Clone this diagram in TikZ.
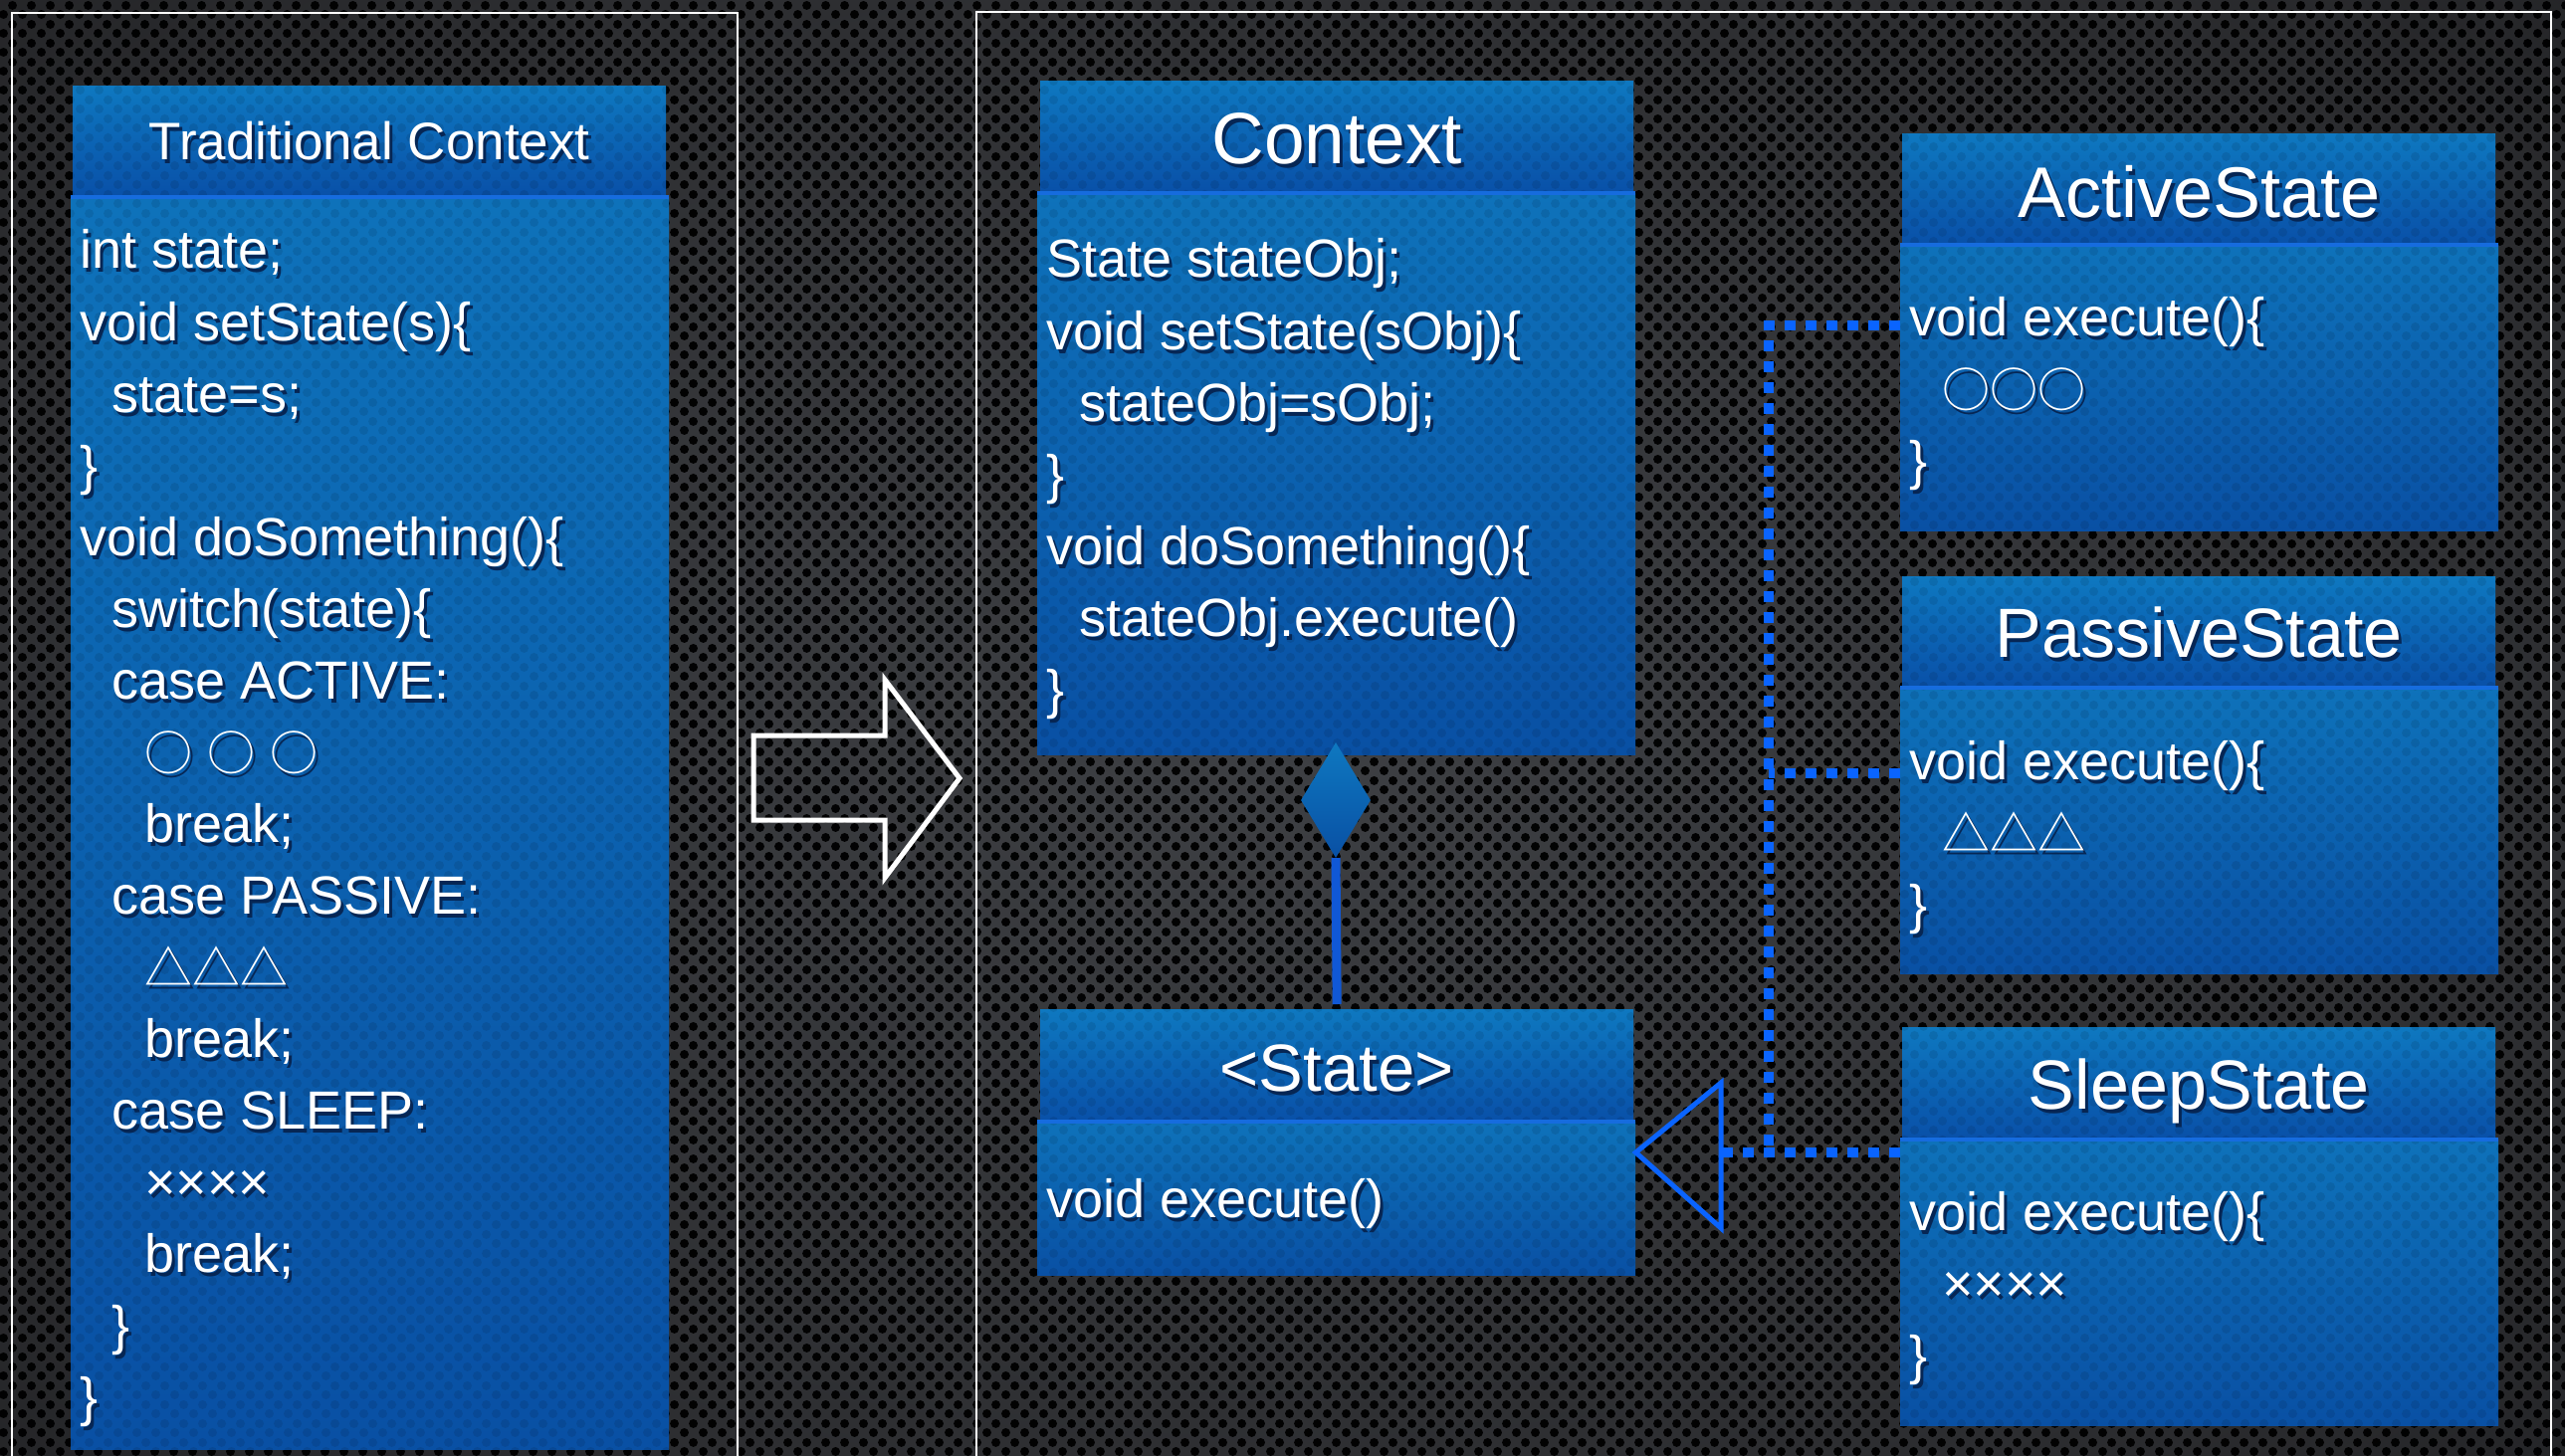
\documentclass[tikz,border=0pt]{standalone}
\usepackage{fontspec}
\setmainfont{Liberation Sans}
\newfontfamily\cjkfont{Noto Sans CJK JP}
\usetikzlibrary{patterns.meta,shapes.geometric}

% colours
\definecolor{bgA}{RGB}{62,64,68}
\definecolor{bgB}{RGB}{44,45,48}
\definecolor{bgC}{RGB}{22,22,24}
\definecolor{bgD}{RGB}{3,3,3}
\definecolor{hdrtop}{RGB}{14,120,192}
\definecolor{hdrbot}{RGB}{9,80,168}
\definecolor{bodytop}{RGB}{14,114,186}
\definecolor{bodybot}{RGB}{9,80,164}
\definecolor{edgeblue}{RGB}{22,108,222}
\definecolor{linkblue}{RGB}{10,100,255}
\definecolor{compblue}{RGB}{16,88,214}
\definecolor{txtshadow}{RGB}{6,38,84}

% white text with a dark drop shadow
\newcommand\shadowed[1]{\leavevmode\rlap{\hspace{3pt}\raisebox{-4pt}{\textcolor{txtshadow}{#1}}}#1}
\newcommand\cjk[1]{{\cjkfont\fontsize{48}{72}\selectfont #1}}
\newcommand\titlesize[1]{\fontsize{#1}{80}\selectfont}

% darkening towards the edges of the slide
\pgfdeclareradialshading{vignette}{\pgfpoint{0bp}{0bp}}{color(0bp)=(bgA); color(28bp)=(bgB); color(50bp)=(bgC); color(71bp)=(bgD)}

% perforated metal
\tikzdeclarepattern{
  name=perforation,
  type=uncolored,
  bounding box={(0pt,0pt) and (19pt,19pt)},
  tile size={(19pt,19pt)},
  code={
    \pgfpathcircle{\pgfqpoint{4.75pt}{4.75pt}}{4.7pt}
    \pgfpathcircle{\pgfqpoint{14.25pt}{14.25pt}}{4.7pt}
    \pgfusepath{fill}
  }
}

\begin{document}
\begin{tikzpicture}[
  x=1pt, y=-1pt,
  font=\fontsize{54}{72}\selectfont,
  frame/.style={draw=white, line width=2.5pt},
  hdr/.style={rectangle, draw=none, inner sep=0, anchor=north west,
    minimum width=596pt, minimum height=112pt,
    top color=hdrtop, bottom color=hdrbot,
    postaction={fill opacity=0.09, pattern=perforation, pattern color=black}},
  bodybox/.style={rectangle, draw=none, inner sep=0, anchor=north west,
    minimum width=601pt,
    top color=bodytop, bottom color=bodybot,
    postaction={fill opacity=0.09, pattern=perforation, pattern color=black}},
  edge/.style={draw=edgeblue, line width=4pt},
  title/.style={anchor=base, inner sep=0, text=white},
  code/.style={anchor=base west, inner sep=0, text=white},
  realize/.style={draw=linkblue, line width=10pt, dash pattern=on 11pt off 10pt},
  generalize/.style={draw=linkblue, line width=5pt, line join=miter},
  composite/.style={draw=compblue, line width=9pt},
  bigarrow/.style={draw=white, line width=5pt, line join=miter}
]
\useasboundingbox (0,0) rectangle (2577,1463);

% background
\shade[shading=vignette] (0,0) rectangle (2577,1463);
\fill[pattern=perforation, pattern color=black, fill opacity=0.95] (0,0) rectangle (2577,1463);

% the two panels
\draw[frame] (12,1470) -- (12,13) -- (741,13) -- (741,1470);
\draw[frame] (981,1470) -- (981,12) -- (2563,12) -- (2563,1470);

% ---------- traditional context ----------
\node[hdr] (tcH) at (73,86) {};
\node[bodybox, minimum height=1258pt] (tcB) at (71,198) {};
\draw[edge] (tcB.north west) -- (tcB.north east);
\node[title, font=\titlesize{53}] (tcT) at (tcH.center |- 0,161) {\shadowed{Traditional Context}};
\foreach \ind/\txt [count=\i] in {
  0/{int state;},
  0/{void setState(s)\{},
  1/{state=s;},
  0/{\}},
  0/{void doSomething()\{},
  1/{switch(state)\{},
  1/{case ACTIVE:},
  2/{\cjk{○} \cjk{○} \cjk{○}},
  2/{break;},
  1/{case PASSIVE:},
  2/{\cjk{△△△}},
  2/{break;},
  1/{case SLEEP:},
  2/{××××},
  2/{break;},
  1/{\}},
  0/{\}}}
  \node[code] (tc-\i) at (80+\ind*32.5, 270+72*\i-72) {\shadowed{\txt}};

% ---------- context ----------
\node[hdr, minimum height=113pt] (ctxH) at (1045,81) {};
\node[bodybox, minimum height=564pt] (ctxB) at (1042,194) {};
\draw[edge] (ctxB.north west) -- (ctxB.north east);
\node[title, font=\titlesize{73}] (ctxT) at (ctxH.center |- 0,165) {\shadowed{Context}};
\foreach \ind/\txt [count=\i] in {
  0/{State stateObj;},
  0/{void setState(sObj)\{},
  1/{stateObj=sObj;},
  0/{\}},
  0/{void doSomething()\{},
  1/{stateObj.execute()},
  0/{\}}}
  \node[code] (ctx-\i) at (1051+\ind*33, 279+72*\i-72) {\shadowed{\txt}};

% ---------- state interface ----------
\node[hdr, minimum height=113pt] (stH) at (1045,1014) {};
\node[bodybox, minimum height=154pt] (stB) at (1042,1127) {};
\draw[edge] (stB.north west) -- (stB.north east);
\node[title, font=\titlesize{67}] (stT) at (stH.center |- 0,1096) {\shadowed{<State>}};
\node[code] (st-1) at (1051,1223) {\shadowed{void execute()}};

% ---------- concrete states ----------
\node[hdr] (actH) at (1911,134) {};
\node[bodybox, minimum height=287pt] (actB) at (1909,246) {};
\draw[edge] (actB.north west) -- (actB.north east);
\node[title, font=\titlesize{72}] (actT) at (actH.center |- 0,219) {\shadowed{ActiveState}};
\foreach \ind/\txt [count=\i] in {
  0/{void execute()\{},
  1/{\cjk{○○○}},
  0/{\}}}
  \node[code] (act-\i) at (1918+\ind*33, 337+72*\i-72) {\shadowed{\txt}};

\node[hdr] (pasH) at (1911,579) {};
\node[bodybox, minimum height=287pt] (pasB) at (1909,691) {};
\draw[edge] (pasB.north west) -- (pasB.north east);
\node[title, font=\titlesize{70}] (pasT) at (pasH.center |- 0,660) {\shadowed{PassiveState}};
\foreach \ind/\txt [count=\i] in {
  0/{void execute()\{},
  1/{\cjk{△△△}},
  0/{\}}}
  \node[code] (pas-\i) at (1918+\ind*33, 783+72*\i-72) {\shadowed{\txt}};

\node[hdr, minimum height=113pt] (slpH) at (1911,1032) {};
\node[bodybox, minimum height=287pt] (slpB) at (1909,1145) {};
\draw[edge] (slpB.north west) -- (slpB.north east);
\node[title, font=\titlesize{70}] (slpT) at (slpH.center |- 0,1114) {\shadowed{SleepState}};
\foreach \ind/\txt [count=\i] in {
  0/{void execute()\{},
  1/{××××},
  0/{\}}}
  \node[code] (slp-\i) at (1918+\ind*33, 1236+72*\i-72) {\shadowed{\txt}};

% ---------- composition: context holds a state ----------
\node[diamond, draw=none, inner sep=0, minimum width=70pt, minimum height=116pt,
      top color=hdrtop, bottom color=bodybot] (agg) at (1342,804) {};
\draw[composite, shorten >=5pt] (agg.south) -- (stH.north);

% ---------- realization: concrete states implement <State> ----------
\coordinate (busA) at (1777,327);
\coordinate (busP) at (1777,777);
\coordinate (busS) at (1777,1158);
\coordinate (tip) at (stB.east |- busS);
\coordinate (base) at (1729,1158);
\draw[realize] (actB.west |- busA) -- (busA) -- (busS);
\draw[realize] (pasB.west |- busP) -- (busP);
\draw[realize] (slpB.west |- busS) -- (base);
\draw[generalize] (tip) -- (1729,1088) -- (1729,1234) -- cycle;

% ---------- refactoring arrow between the panels ----------
\draw[bigarrow] (757,739) -- (889,739) -- (889,683) -- (964,782) -- (889,882) -- (889,824) -- (757,824) -- cycle;
\end{tikzpicture}
\end{document}
